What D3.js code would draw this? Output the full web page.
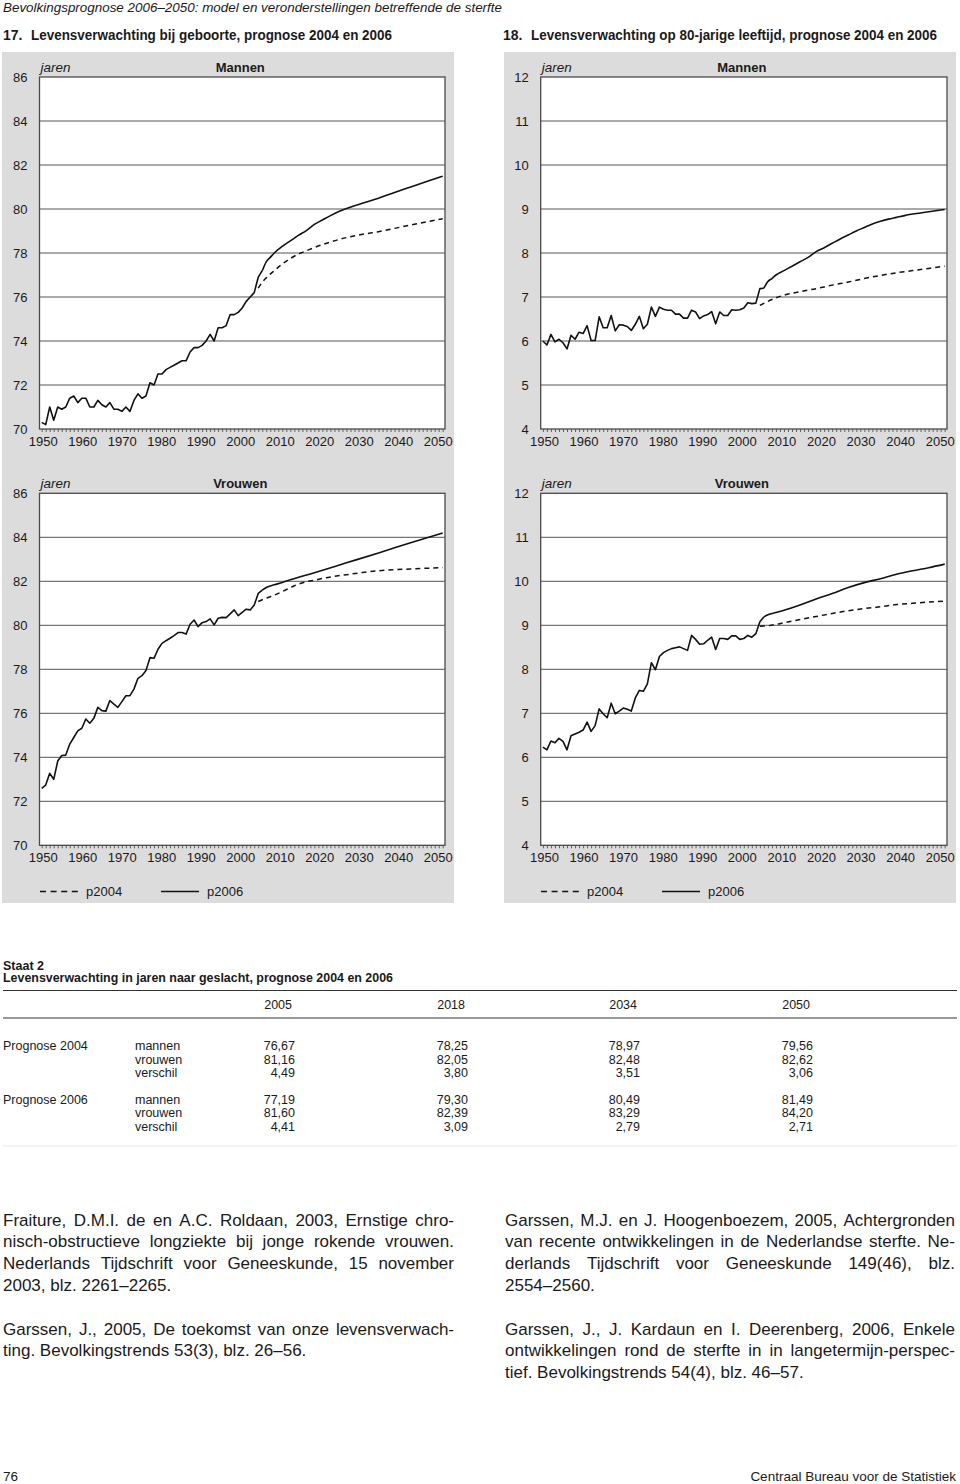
<!DOCTYPE html>
<html><head><meta charset="utf-8">
<script src="https://cdn.jsdelivr.net/npm/d3@7"></script>
<style>
html,body{margin:0;padding:0;background:#fff;}
svg{display:block;font-family:"Liberation Sans",Arial,Helvetica,sans-serif;}
</style></head><body>
<svg id="page" width="960" height="1484"></svg>
<script>
// ---------------- data ----------------
const histYears = d3.range(1950, 2006);
const xTickLabels = [1950,1960,1970,1980,1990,2000,2010,2020,2030,2040,2050];
const yTicksBirth = [70,72,74,76,78,80,82,84,86];
const yTicks80 = [4,5,6,7,8,9,10,11,12];

const menBirthHist = [70.3,70.2,71.0,70.4,71.0,70.9,71.0,71.4,71.5,71.2,
  71.4,71.4,71.0,71.0,71.3,71.1,71.0,71.2,70.9,70.9,
  70.8,71.0,70.8,71.3,71.6,71.4,71.5,72.1,72.0,72.5,
  72.5,72.7,72.8,72.9,73.0,73.1,73.1,73.5,73.7,73.7,
  73.8,74.0,74.3,74.0,74.6,74.6,74.7,75.2,75.2,75.3,
  75.5,75.8,76.0,76.2,76.9,77.2];
const menBirthP2004 = [[2004,76.4],[2005,76.67],[2006,76.87],[2008,77.2],[2010,77.5],[2012,77.75],[2014,77.95],[2016,78.1],[2018,78.25],[2022,78.5],[2026,78.7],[2030,78.85],[2034,78.97],[2038,79.12],[2042,79.27],[2046,79.42],[2050,79.56]];
const menBirthP2006 = [[2005,77.19],[2006,77.6],[2007,77.8],[2008,78.0],[2010,78.3],[2012,78.55],[2014,78.8],[2016,79.02],[2018,79.3],[2020,79.5],[2022,79.7],[2025,79.95],[2028,80.15],[2031,80.32],[2034,80.49],[2038,80.75],[2042,81.0],[2046,81.25],[2050,81.49]];

const men80Hist = [6.0,5.91,6.15,5.98,6.04,5.96,5.82,6.13,6.04,6.2,
  6.17,6.35,6.01,6.01,6.55,6.3,6.3,6.58,6.23,6.37,
  6.36,6.33,6.24,6.38,6.56,6.28,6.38,6.77,6.56,6.77,
  6.72,6.7,6.7,6.61,6.61,6.52,6.52,6.7,6.66,6.51,
  6.57,6.6,6.67,6.39,6.66,6.58,6.58,6.71,6.7,6.71,
  6.75,6.87,6.85,6.86,7.19,7.2];
const men80P2004 = [[2004,6.81],[2006,6.9],[2008,6.98],[2010,7.04],[2014,7.12],[2018,7.19],[2022,7.27],[2026,7.34],[2030,7.42],[2034,7.49],[2038,7.55],[2042,7.6],[2046,7.65],[2050,7.7]];
const men80P2006 = [[2005,7.2],[2006,7.35],[2007,7.42],[2008,7.5],[2010,7.6],[2012,7.7],[2014,7.8],[2016,7.9],[2018,8.03],[2020,8.12],[2022,8.22],[2024,8.32],[2026,8.41],[2028,8.5],[2030,8.58],[2032,8.66],[2034,8.72],[2036,8.77],[2038,8.81],[2040,8.85],[2044,8.91],[2050,8.99]];

const womenBirthHist = [72.59,72.74,73.27,73.0,73.83,74.08,74.1,74.6,74.9,75.2,
  75.32,75.74,75.55,75.77,76.27,76.12,76.1,76.58,76.42,76.27,
  76.53,76.8,76.8,77.1,77.59,77.71,77.94,78.53,78.5,78.91,
  79.18,79.3,79.41,79.53,79.67,79.67,79.6,80.05,80.24,79.94,
  80.12,80.17,80.29,80.02,80.32,80.36,80.35,80.52,80.7,80.44,
  80.59,80.73,80.7,80.92,81.45,81.6];
const womenBirthP2004 = [[2004,81.08],[2005,81.16],[2007,81.3],[2009,81.45],[2011,81.62],[2013,81.8],[2016,81.98],[2018,82.05],[2022,82.2],[2026,82.3],[2030,82.4],[2034,82.48],[2042,82.56],[2050,82.62]];
const womenBirthP2006 = [[2005,81.6],[2006,81.72],[2008,81.84],[2010,81.95],[2012,82.07],[2018,82.39],[2026,82.84],[2034,83.29],[2042,83.75],[2050,84.2]];

const women80Hist = [6.23,6.17,6.37,6.33,6.43,6.36,6.17,6.49,6.53,6.57,
  6.62,6.8,6.59,6.72,7.1,6.99,6.9,7.23,6.99,7.05,
  7.12,7.09,7.05,7.35,7.52,7.5,7.67,8.15,7.99,8.29,
  8.38,8.43,8.47,8.49,8.51,8.47,8.43,8.77,8.68,8.57,
  8.58,8.66,8.73,8.45,8.7,8.7,8.68,8.76,8.76,8.68,
  8.7,8.77,8.73,8.81,9.08,9.19];
const women80P2004 = [[2004,8.98],[2006,8.99],[2008,9.02],[2010,9.06],[2014,9.13],[2018,9.2],[2022,9.27],[2026,9.33],[2030,9.38],[2034,9.42],[2038,9.47],[2042,9.5],[2046,9.53],[2050,9.55]];
const women80P2006 = [[2005,9.19],[2006,9.24],[2008,9.29],[2010,9.34],[2014,9.46],[2018,9.6],[2022,9.72],[2026,9.86],[2030,9.97],[2034,10.06],[2038,10.16],[2042,10.24],[2046,10.31],[2050,10.39]];

const legendLabels = ["p2004","p2006"];

// table
const tableYears = [2005, 2018, 2034, 2050];
const tableGroups = ["Prognose 2004", "Prognose 2006"];
const tableRowLabels = ["mannen", "vrouwen", "verschil"];
const p2004Mannen = [76.67, 78.25, 78.97, 79.56];
const p2004Vrouwen = [81.16, 82.05, 82.48, 82.62];
const p2004Verschil = [4.49, 3.80, 3.51, 3.06];
const p2006Mannen = [77.19, 79.30, 80.49, 81.49];
const p2006Vrouwen = [81.60, 82.39, 83.29, 84.20];
const p2006Verschil = [4.41, 3.09, 2.79, 2.71];

// texts
const pageHeader = "Bevolkingsprognose 2006–2050: model en veronderstellingen betreffende de sterfte";
const fig17 = ["17.", "Levensverwachting bij geboorte, prognose 2004 en 2006"];
const fig18 = ["18.", "Levensverwachting op 80-jarige leeftijd, prognose 2004 en 2006"];
const refsLeft = [
  ["Fraiture, D.M.I. de en A.C. Roldaan, 2003, Ernstige chro-", true],
  ["nisch-obstructieve longziekte bij jonge rokende vrouwen.", true],
  ["Nederlands Tijdschrift voor Geneeskunde, 15 november", true],
  ["2003, blz. 2261–2265.", false],
  null,
  ["Garssen, J., 2005, De toekomst van onze levensverwach-", true],
  ["ting. Bevolkingstrends 53(3), blz. 26–56.", false]
];
const refsRight = [
  ["Garssen, M.J. en J. Hoogenboezem, 2005, Achtergronden", true],
  ["van recente ontwikkelingen in de Nederlandse sterfte. Ne-", true],
  ["derlands Tijdschrift voor Geneeskunde 149(46), blz.", true],
  ["2554–2560.", false],
  null,
  ["Garssen, J., J. Kardaun en I. Deerenberg, 2006, Enkele", true],
  ["ontwikkelingen rond de sterfte in in langetermijn-perspec-", true],
  ["tief. Bevolkingstrends 54(4), blz. 46–57.", false]
];

// ---------------- drawing ----------------
const svg = d3.select("#page");
const TXT = "#1a1a1a";
const GRAY = "#dcdcdc";

svg.append("text").attr("x", 3).attr("y", 12).attr("font-size", 12.5).attr("font-style", "italic")
  .attr("fill", TXT).attr("textLength", 499).attr("lengthAdjust", "spacingAndGlyphs").text(pageHeader);

function figTitle(x, parts, len) {
  svg.append("text").attr("x", x).attr("y", 40).attr("font-size", 14).attr("font-weight", "bold").attr("fill", TXT).text(parts[0]);
  svg.append("text").attr("x", x + 28).attr("y", 40).attr("font-size", 14).attr("font-weight", "bold").attr("fill", TXT)
    .attr("textLength", len).attr("lengthAdjust", "spacingAndGlyphs").text(parts[1]);
}
figTitle(3, fig17, 361);
figTitle(503, fig18, 406);

svg.append("rect").attr("x", 2).attr("y", 52).attr("width", 452).attr("height", 851).attr("fill", GRAY);
svg.append("rect").attr("x", 504).attr("y", 52).attr("width", 452).attr("height", 851).attr("fill", GRAY);

const charts = [
  {x0: 39.5, x1: 445, y0: 77, y1: 429, dom: [70, 86], ticks: yTicksBirth, title: "Mannen", hist: menBirthHist, p04: menBirthP2004, p06: menBirthP2006},
  {x0: 540.7, x1: 947, y0: 77, y1: 429, dom: [4, 12], ticks: yTicks80, title: "Mannen", hist: men80Hist, p04: men80P2004, p06: men80P2006},
  {x0: 39.5, x1: 445, y0: 493.3, y1: 845.3, dom: [70, 86], ticks: yTicksBirth, title: "Vrouwen", hist: womenBirthHist, p04: womenBirthP2004, p06: womenBirthP2006},
  {x0: 540.7, x1: 947, y0: 493.3, y1: 845.3, dom: [4, 12], ticks: yTicks80, title: "Vrouwen", hist: women80Hist, p04: women80P2004, p06: women80P2006}
];

charts.forEach(c => {
  const g = svg.append("g");
  const x = d3.scaleLinear().domain([1950, 2050]).range([c.x0 + 2.2, c.x1 - 2.3]);
  const xLab = d3.scaleLinear().domain([1950, 2050]).range([x(1950) + 1, x(2050) - 5]);
  const y = d3.scaleLinear().domain(c.dom).range([c.y1, c.y0]);

  g.append("rect").attr("x", c.x0).attr("y", c.y0).attr("width", c.x1 - c.x0).attr("height", c.y1 - c.y0).attr("fill", "#fff");

  g.append("g").selectAll("line").data(c.ticks.slice(1, -1)).join("line")
    .attr("x1", c.x0).attr("x2", c.x1).attr("y1", d => y(d)).attr("y2", d => y(d))
    .attr("stroke", "#555").attr("stroke-width", 1);

  const ax = g.append("g").attr("transform", `translate(0,${c.y1})`)
    .call(d3.axisBottom(x).tickValues(d3.range(1950, 2051)).tickSize(3).tickFormat(""));
  ax.select(".domain").remove();
  ax.selectAll("line").attr("stroke", "#444").attr("stroke-width", 0.8);

  const axl = g.append("g").attr("transform", `translate(0,${c.y1})`)
    .call(d3.axisBottom(xLab).tickValues(xTickLabels).tickSize(0).tickFormat(d3.format("d")));
  axl.select(".domain").remove();
  axl.selectAll("text").attr("font-size", 13).attr("font-family", null).attr("fill", TXT).attr("dy", 0).attr("y", 16.8);

  const ayl = g.append("g").attr("transform", `translate(${c.x0 - 12},0)`)
    .call(d3.axisLeft(y).tickValues(c.ticks).tickSize(0).tickFormat(d3.format("d")));
  ayl.select(".domain").remove();
  ayl.selectAll("text").attr("font-size", 13).attr("font-family", null).attr("fill", TXT).attr("x", 0);

  g.append("rect").attr("x", c.x0).attr("y", c.y0).attr("width", c.x1 - c.x0).attr("height", c.y1 - c.y0)
    .attr("fill", "none").attr("stroke", "#4a4a4a").attr("stroke-width", 1.3);

  g.append("text").attr("x", c.x0 + 1).attr("y", c.y0 - 5).attr("font-size", 13.5).attr("font-style", "italic").attr("fill", TXT).text("jaren");
  g.append("text").attr("x", (c.x0 + c.x1) / 2 - 2).attr("y", c.y0 - 5).attr("font-size", 13).attr("font-weight", "bold")
    .attr("text-anchor", "middle").attr("fill", TXT).text(c.title);

  const lineLin = d3.line().x(d => x(d[0])).y(d => y(d[1]));
  const lineSm = d3.line().x(d => x(d[0])).y(d => y(d[1])).curve(d3.curveMonotoneX);
  const histPts = histYears.map((yr, i) => [yr, c.hist[i]]);
  g.append("path").attr("d", lineSm(c.p04)).attr("fill", "none").attr("stroke", "#111")
    .attr("stroke-width", 1.5).attr("stroke-dasharray", "5,4");
  g.append("path").attr("d", lineLin(histPts)).attr("fill", "none").attr("stroke", "#111")
    .attr("stroke-width", 1.6).attr("stroke-linejoin", "round");
  g.append("path").attr("d", lineSm(c.p06)).attr("fill", "none").attr("stroke", "#111")
    .attr("stroke-width", 1.6).attr("stroke-linejoin", "round");
});

[0, 501].forEach(off => {
  const ly = 891.5;
  const lg = svg.append("g").attr("transform", `translate(${off},0)`);
  lg.append("line").attr("x1", 40).attr("x2", 78).attr("y1", ly).attr("y2", ly)
    .attr("stroke", "#111").attr("stroke-width", 1.3).attr("stroke-dasharray", "6,4.6");
  lg.append("text").attr("x", 86).attr("y", ly + 4.6).attr("font-size", 13).attr("fill", TXT).text(legendLabels[0]);
  lg.append("line").attr("x1", 161).attr("x2", 199).attr("y1", ly).attr("y2", ly)
    .attr("stroke", "#111").attr("stroke-width", 1.3);
  lg.append("text").attr("x", 207).attr("y", ly + 4.6).attr("font-size", 13).attr("fill", TXT).text(legendLabels[1]);
});

// ---------------- table ----------------
const fmt = v => d3.format(".2f")(v).replace(".", ",");
svg.append("text").attr("x", 3).attr("y", 970).attr("font-size", 12.5).attr("font-weight", "bold").attr("fill", TXT).text("Staat 2");
svg.append("text").attr("x", 3).attr("y", 982).attr("font-size", 12.5).attr("font-weight", "bold").attr("fill", TXT)
  .attr("textLength", 390).attr("lengthAdjust", "spacingAndGlyphs")
  .text("Levensverwachting in jaren naar geslacht, prognose 2004 en 2006");
svg.append("line").attr("x1", 3).attr("x2", 957).attr("y1", 990.5).attr("y2", 990.5).attr("stroke", "#333").attr("stroke-width", 1.2);
svg.append("line").attr("x1", 3).attr("x2", 957).attr("y1", 1018).attr("y2", 1018).attr("stroke", "#333").attr("stroke-width", 1.2);
svg.append("line").attr("x1", 3).attr("x2", 957).attr("y1", 1146).attr("y2", 1146).attr("stroke", "#e6e6e6").attr("stroke-width", 1);

const colRight = [295, 468, 640, 813];
svg.append("g").selectAll("text").data(tableYears).join("text")
  .attr("x", (d, i) => colRight[i] - 3).attr("y", 1008.5).attr("text-anchor", "end")
  .attr("font-size", 12.5).attr("fill", TXT).text(d => d);

const tableData = [
  [p2004Mannen, p2004Vrouwen, p2004Verschil],
  [p2006Mannen, p2006Vrouwen, p2006Verschil]
];
const groupY = [1050, 1103.5];
tableData.forEach((grp, gi) => {
  svg.append("text").attr("x", 3).attr("y", groupY[gi]).attr("font-size", 12.5).attr("fill", TXT).text(tableGroups[gi]);
  grp.forEach((vals, ri) => {
    const yy = groupY[gi] + ri * 13.5;
    svg.append("text").attr("x", 135).attr("y", yy).attr("font-size", 12.5).attr("fill", TXT).text(tableRowLabels[ri]);
    svg.append("g").selectAll("text").data(vals).join("text")
      .attr("x", (d, i) => colRight[i]).attr("y", yy).attr("text-anchor", "end")
      .attr("font-size", 12.5).attr("fill", TXT).text(d => fmt(d));
  });
});

// ---------------- references ----------------
function justifyLine(xL, xR, yBase, text, justify) {
  const g = svg.append("g").attr("font-size", 17).attr("fill", TXT);
  if (!justify) { g.append("text").attr("x", xL).attr("y", yBase).text(text); return; }
  const words = text.split(" ");
  const els = words.map(w => g.append("text").attr("y", yBase).text(w));
  const widths = els.map(e => e.node().getComputedTextLength());
  const minGap = 3;
  let total = d3.sum(widths);
  const avail = xR - xL;
  if (total + minGap * (words.length - 1) > avail) {
    const s = (avail - minGap * (words.length - 1)) / total;
    els.forEach((e, i) => { e.attr("textLength", widths[i] * s).attr("lengthAdjust", "spacingAndGlyphs"); widths[i] *= s; });
    total = d3.sum(widths);
  }
  const gap = (avail - total) / (words.length - 1);
  let xx = xL;
  els.forEach((e, i) => { e.attr("x", xx); xx += widths[i] + gap; });
}
const refY0 = 1225.5, refLH = 21.8;
refsLeft.forEach((r, i) => { if (r) justifyLine(3, 454, refY0 + i * refLH, r[0], r[1]); });
refsRight.forEach((r, i) => { if (r) justifyLine(505, 955, refY0 + i * refLH, r[0], r[1]); });

svg.append("text").attr("x", 3).attr("y", 1481).attr("font-size", 13.5).attr("fill", TXT).text("76");
svg.append("text").attr("x", 956).attr("y", 1481).attr("font-size", 13.5).attr("fill", TXT).attr("text-anchor", "end")
  .text("Centraal Bureau voor de Statistiek");
</script>
</body></html>
